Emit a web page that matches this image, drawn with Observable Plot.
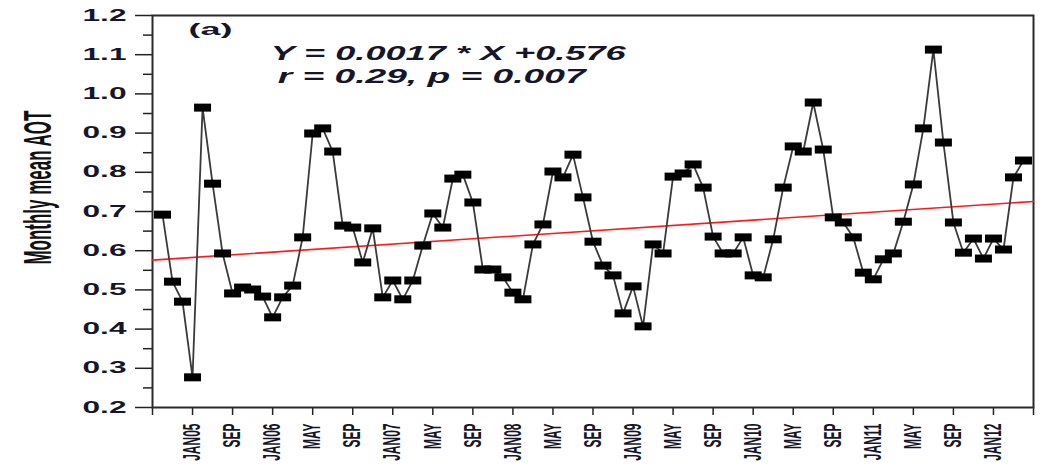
<!DOCTYPE html>
<html>
<head>
<meta charset="utf-8">
<script src="https://cdn.jsdelivr.net/npm/d3@7"></script>
<script src="https://cdn.jsdelivr.net/npm/@observablehq/plot@0.6"></script>
<style>
  html, body { margin: 0; padding: 0; background: #fff; }
  svg { display: block; }
</style>
</head>
<body>
<div id="chart"></div>
<script>
// Monthly mean aerosol optical thickness, one value per month (X = 1 … 87)
const aot = [
  0.692, 0.521, 0.470, 0.277, 0.965, 0.771, 0.593, 0.491, 0.506, 0.501,
  0.483, 0.430, 0.481, 0.511, 0.634, 0.899, 0.912, 0.853, 0.664, 0.659,
  0.570, 0.657, 0.481, 0.524, 0.476, 0.524, 0.613, 0.695, 0.659, 0.784,
  0.794, 0.723, 0.552, 0.552, 0.532, 0.493, 0.476, 0.616, 0.667, 0.802,
  0.787, 0.845, 0.736, 0.623, 0.562, 0.537, 0.440, 0.509, 0.407, 0.616,
  0.593, 0.789, 0.797, 0.820, 0.761, 0.636, 0.593, 0.593, 0.634, 0.537,
  0.532, 0.629, 0.761, 0.866, 0.853, 0.978, 0.858, 0.685, 0.672, 0.634,
  0.544, 0.527, 0.578, 0.593, 0.674, 0.769, 0.912, 1.113, 0.876, 0.672,
  0.595, 0.631, 0.580, 0.631, 0.603, 0.787, 0.830
];
const months = aot.map((_, i) => i + 1);

// Month axis: a tick every four months, with these labels
const tickMonths = d3.range(0, 89, 4);
const tickLabels = [
  "", "JAN05", "SEP", "JAN06", "MAY", "SEP", "JAN07", "MAY", "SEP",
  "JAN08", "MAY", "SEP", "JAN09", "MAY", "SEP", "JAN10", "MAY", "SEP",
  "JAN11", "MAY", "SEP", "JAN12", ""
];
const labelOf = new Map(tickMonths.map((m, i) => [m, tickLabels[i]]));

// AOT axis ticks
const yMajor = d3.range(2, 13).map(k => k / 10);
const yMinor = d3.range(2, 12).map(k => k / 10 + 0.05);

// Linear trend: Y = slope * X + intercept
const slope = 0.0017;
const intercept = 0.576;
const r = 0.29;
const p = 0.007;
const fitMonths = [0, 88];

const series = months.map((m, i) => ({month: m, aot: aot[i]}));
const trend = fitMonths.map(m => ({month: m, aot: intercept + slope * m}));

const panelText = "(a)";
const equationText = `Y = ${slope} * X +${intercept}`;
const statsText = `r = ${r}, p = ${p}`;
const yTitle = "Monthly mean AOT";

// Flat rectangular marker
const barMarker = {
  draw(ctx) { ctx.rect(-8.5, -4, 17, 8); }
};

const ink = "#16162a";

const chart = Plot.plot({
  width: 1040,
  height: 467,
  marginLeft: 152,
  marginRight: 7,
  marginTop: 15,
  marginBottom: 60,
  style: {fontFamily: "'Liberation Sans', Arial, sans-serif", background: "#fff", color: ink},
  x: {domain: [0, 88]},
  y: {domain: [0.2, 1.2]},
  marks: [
    Plot.axisY(yMinor, {label: null, tickSize: 9, tickFormat: () => "", stroke: "#222", strokeWidth: 1.5}),
    Plot.axisY(yMajor, {
      label: null, tickSize: 17, tickPadding: 9, tickFormat: d3.format(".1f"),
      fontSize: 16, fontWeight: "bold", stroke: "#222", strokeWidth: 1.5
    }),
    Plot.axisX(tickMonths, {
      label: null, tickSize: 8, tickPadding: 8, tickRotate: -90,
      tickFormat: m => labelOf.get(m),
      fontSize: 12, fontWeight: "bold", stroke: "#222", strokeWidth: 1.5
    }),
    Plot.frame({stroke: "#2a2a2a", strokeWidth: 2}),
    Plot.line(trend, {x: "month", y: "aot", stroke: "#ff1a1a", strokeWidth: 1.6}),
    Plot.line(series, {x: "month", y: "aot", stroke: "#3a3a3a", strokeWidth: 1.8}),
    Plot.dot(series, {x: "month", y: "aot", symbol: barMarker, fill: "#000", stroke: null}),
    Plot.text([panelText], {
      x: 3.6, y: 1.164, textAnchor: "start", lineAnchor: "middle",
      fontSize: 17, fontWeight: "bold", fill: ink
    }),
    Plot.text([equationText], {
      x: 11.8, y: 1.104, textAnchor: "start", lineAnchor: "middle",
      fontSize: 21, fontWeight: "bold", fontStyle: "italic", fill: ink
    }),
    Plot.text([statsText], {
      x: 12.5, y: 1.046, textAnchor: "start", lineAnchor: "middle",
      fontSize: 21, fontWeight: "bold", fontStyle: "italic", fill: ink
    }),
    Plot.text([yTitle], {
      x: -11.4, y: 0.761, rotate: -90, textAnchor: "middle", lineAnchor: "middle",
      fontSize: 20, fontWeight: "bold", fill: "#111"
    })
  ]
});

document.getElementById("chart").appendChild(chart);

// Widen the type horizontally, in the style of the original figure
const svg = d3.select(chart);
function byText(s) {
  return svg.selectAll("text").filter(function () { return this.textContent === s; });
}
function fit(sel, len) {
  sel.attr("textLength", len).attr("lengthAdjust", "spacingAndGlyphs");
}
function widen(sel, sx) {
  sel.each(function () {
    const t = this.getAttribute("transform") || "";
    if (/rotate\(/.test(t)) {
      this.setAttribute("transform", t.replace(/rotate\(/, `scale(${sx},1) rotate(`));
    }
  });
}
fit(svg.selectAll('g[aria-label="y-axis tick label"] text').filter(function () { return this.textContent !== ""; }), 44);
widen(svg.selectAll('g[aria-label="x-axis tick label"] text'), 2.0);
fit(byText(panelText), 44);
fit(byText(equationText), 355);
fit(byText(statsText), 308);
const title = byText(yTitle);
fit(title, 154);
widen(title, 1.9);
</script>
</body>
</html>
